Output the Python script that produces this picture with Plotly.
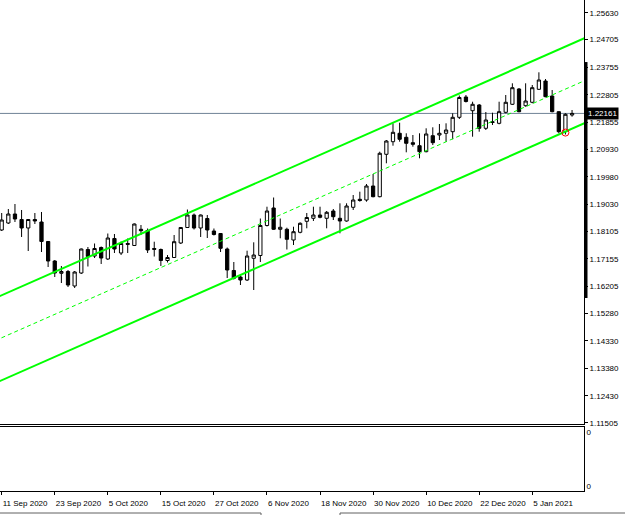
import plotly.graph_objects as go

# ---- data (EURUSD daily) ----
opens = [1.18145, 1.18386, 1.18696, 1.18506, 1.18214, 1.18506, 1.18420, 1.17749, 1.17077, 1.16653,
         1.16715, 1.16216, 1.16663, 1.17473, 1.17249, 1.17542, 1.17146, 1.17852, 1.17352, 1.17680,
         1.17611, 1.18169, 1.18128, 1.17507, 1.17473, 1.17094, 1.17197, 1.17697, 1.18231, 1.18661,
         1.18214, 1.18541, 1.18110, 1.18024, 1.17490, 1.16750, 1.16526, 1.16422, 1.17170, 1.17266,
         1.18300, 1.18903, 1.18169, 1.18169, 1.17800, 1.18065, 1.18444, 1.18548, 1.18661, 1.18548,
         1.18799, 1.18548, 1.18455, 1.18927, 1.19202, 1.19178, 1.19660, 1.19292, 1.20752, 1.21186,
         1.21476, 1.21338, 1.21152, 1.21049, 1.20842, 1.21393, 1.21417, 1.21476, 1.21531, 1.22027,
         1.22726, 1.22254, 1.22451, 1.21648, 1.21875, 1.21820, 1.22199, 1.22475, 1.23002, 1.22426,
         1.22544, 1.22991, 1.23277, 1.22761, 1.22220, 1.21531, 1.22106]
highs = [1.18730, 1.18868, 1.19040, 1.18834, 1.18524, 1.18730, 1.18765, 1.17766, 1.17111, 1.16905,
         1.16767, 1.16732, 1.17507, 1.17559, 1.17680, 1.17576, 1.18024, 1.18007, 1.17749, 1.17852,
         1.18369, 1.18317, 1.18196, 1.17742, 1.17507, 1.17283, 1.17972, 1.18248, 1.18851, 1.18713,
         1.18679, 1.18661, 1.18196, 1.18041, 1.17542, 1.17042, 1.16595, 1.17432, 1.17721, 1.18541,
         1.18947, 1.19264, 1.18541, 1.18224, 1.18258, 1.18410, 1.18730, 1.18947, 1.18947, 1.18799,
         1.18868, 1.19064, 1.19064, 1.19350, 1.19464, 1.19729, 1.20074, 1.20842, 1.21245, 1.21820,
         1.21841, 1.21476, 1.21417, 1.21476, 1.21648, 1.21682, 1.21796, 1.21820, 1.22165, 1.22778,
         1.22795, 1.22564, 1.22485, 1.22209, 1.22185, 1.22564, 1.22795, 1.23198, 1.23036, 1.23198,
         1.23139, 1.23577, 1.23346, 1.22967, 1.22234, 1.22165, 1.22278]
lows = [1.18110, 1.18351, 1.18420, 1.17904, 1.17421, 1.18351, 1.17387, 1.16870, 1.16526, 1.16319,
        1.16181, 1.16147, 1.16629, 1.16887, 1.17180, 1.16974, 1.17111, 1.17352, 1.17283, 1.17352,
        1.17593, 1.17972, 1.17352, 1.17232, 1.16905, 1.17025, 1.17180, 1.17662, 1.18214, 1.18162,
        1.17904, 1.17869, 1.17955, 1.17387, 1.16491, 1.16440, 1.16250, 1.16388, 1.16078, 1.17042,
        1.18265, 1.18145, 1.17859, 1.17473, 1.17628, 1.18031, 1.18203, 1.18455, 1.18548, 1.18203,
        1.18489, 1.18031, 1.18431, 1.18834, 1.19120, 1.19120, 1.19271, 1.19271, 1.20442, 1.21049,
        1.21186, 1.20821, 1.21014, 1.20615, 1.20821, 1.21073, 1.21245, 1.21186, 1.21269, 1.21968,
        1.22537, 1.21359, 1.21531, 1.21589, 1.21762, 1.21786, 1.22165, 1.22451, 1.22199, 1.22392,
        1.22509, 1.22967, 1.22716, 1.22199, 1.21476, 1.21434, 1.22048]
closes = [1.18489, 1.18696, 1.18524, 1.18214, 1.18506, 1.18455, 1.17749, 1.17077, 1.16663, 1.16715,
          1.16250, 1.16698, 1.17490, 1.17232, 1.17507, 1.17180, 1.17869, 1.17490, 1.17680, 1.17652,
          1.18351, 1.18121, 1.17456, 1.17480, 1.17094, 1.17197, 1.17742, 1.18231, 1.18661, 1.18214,
          1.18661, 1.18145, 1.17990, 1.17514, 1.16767, 1.16481, 1.16422, 1.17249, 1.17283, 1.18300,
          1.18799, 1.18169, 1.18238, 1.17824, 1.18086, 1.18375, 1.18575, 1.18661, 1.18582, 1.18754,
          1.18603, 1.18455, 1.18971, 1.19178, 1.19161, 1.19660, 1.19292, 1.20787, 1.21210, 1.21510,
          1.21269, 1.21131, 1.21097, 1.20842, 1.21452, 1.21152, 1.21476, 1.21589, 1.22027, 1.22709,
          1.22571, 1.22475, 1.21648, 1.21934, 1.21848, 1.22220, 1.22544, 1.23047, 1.22220, 1.22588,
          1.23047, 1.23312, 1.22737, 1.22220, 1.21531, 1.22130, 1.22161]
bar_idx = list(range(len(opens)))

date_tick_idx = [0, 8, 16, 24, 32, 40, 48, 56, 64, 72, 80]
date_labels = ["11 Sep 2020", "23 Sep 2020", "5 Oct 2020", "15 Oct 2020", "27 Oct 2020",
               "6 Nov 2020", "18 Nov 2020", "30 Nov 2020", "10 Dec 2020", "22 Dec 2020", "5 Jan 2021"]

price_ticks = [1.25630, 1.24705, 1.23755, 1.22805, 1.21855, 1.20930, 1.19980, 1.19030,
               1.18105, 1.17155, 1.16205, 1.15280, 1.14330, 1.13380, 1.12430, 1.11505]
price_labels = ["%.5f" % v for v in price_ticks]

bid_price = 1.22161

channel_x = [-1, 89]
channel_upper = [1.15796, 1.24865]
channel_mid = [1.14332, 1.23401]
channel_lower = [1.12868, 1.21937]

anchor_idx = [85]
anchor_price = [1.21500]

# ---- layout geometry ----
W, H = 625, 515
plot_right = 584 / W
main_bottom = (H - 424) / H
sub_top = (H - 427) / H
sub_bottom = (H - 491) / H
FONT = "Liberation Sans, Arial, sans-serif"
FS = 8

fig = go.Figure()

fig.add_trace(go.Candlestick(
    x=bar_idx, open=opens, high=highs, low=lows, close=closes,
    increasing=dict(line=dict(color="black", width=1), fillcolor="white"),
    decreasing=dict(line=dict(color="black", width=1), fillcolor="black"),
    whiskerwidth=0, hoverinfo="skip", showlegend=False,
    xaxis="x", yaxis="y"))

for vals, dash, w in [(channel_upper, "solid", 2), (channel_lower, "solid", 2),
                      (channel_mid, "4px,3px", 1)]:
    fig.add_trace(go.Scatter(x=channel_x, y=vals, mode="lines",
                             line=dict(color="#00FF00", width=w, dash=dash),
                             hoverinfo="skip", showlegend=False, xaxis="x", yaxis="y"))

fig.add_trace(go.Scatter(x=anchor_idx, y=anchor_price, mode="markers",
                         marker=dict(symbol="circle-open", size=7, color="red",
                                     line=dict(color="red", width=1)),
                         hoverinfo="skip", showlegend=False, xaxis="x", yaxis="y"))

fig.add_trace(go.Scatter(x=[None], y=[None], xaxis="x2", yaxis="y2",
                         showlegend=False, hoverinfo="skip"))

fig.update_layout(
    width=W, height=H,
    margin=dict(l=0, r=0, t=0, b=0, autoexpand=False),
    paper_bgcolor="white", plot_bgcolor="white",
    showlegend=False,
    font=dict(family=FONT, size=FS, color="black"),
    xaxis=dict(domain=[0, plot_right], range=[-0.256, 87.8], anchor="y",
               showline=True, linecolor="black", linewidth=1, mirror=False,
               showticklabels=False, ticks="", showgrid=False, zeroline=False,
               rangeslider=dict(visible=False), fixedrange=True, automargin=False),
    yaxis=dict(domain=[main_bottom, 1], range=[1.11462, 1.260675], anchor="x",
               side="right", showline=True, linecolor="black", linewidth=1,
               ticks="outside", ticklen=3, tickcolor="black",
               tickvals=price_ticks, ticktext=price_labels,
               tickfont=dict(family=FONT, size=FS, color="black"),
               showgrid=False, zeroline=False, fixedrange=True, automargin=False),
    xaxis2=dict(domain=[0, plot_right], matches="x", anchor="y2",
                showline=True, linecolor="black", linewidth=1, mirror=True,
                ticks="outside", ticklen=3, tickcolor="black",
                tickvals=date_tick_idx, ticktext=date_labels, tickangle=0,
                ticklabelposition="outside right", ticklabelstandoff=4,
                tickfont=dict(family=FONT, size=FS, color="black"),
                showgrid=False, zeroline=False, fixedrange=True, automargin=False),
    yaxis2=dict(domain=[sub_bottom, sub_top], range=[0, 1], anchor="x2",
                side="right", showline=True, linecolor="black", linewidth=1, mirror=True,
                ticks="", tickvals=[0.07, 0.92], ticktext=["0", "0"],
                tickfont=dict(family=FONT, size=FS, color="black"),
                showgrid=False, zeroline=False, fixedrange=True, automargin=False),
)

# bid line
fig.add_shape(type="line", xref="paper", yref="y", x0=0, x1=plot_right,
              y0=bid_price, y1=bid_price, line=dict(color="#6f8296", width=1), layer="below")
# bid label
fig.add_annotation(xref="paper", yref="y", x=586 / W, y=bid_price, xanchor="left",
                   yanchor="middle", text="%.5f" % bid_price, showarrow=False,
                   bgcolor="black", font=dict(family=FONT, size=FS, color="white"),
                   borderpad=1)
# thick bar along price scale
fig.add_shape(type="line", xref="paper", yref="y", x0=586 / W, x1=586 / W,
              y0=1.23930, y1=1.15802, line=dict(color="black", width=3))
# tab bar at the bottom
tab_y = (H - 513) / H
for x0, x1 in [(0, 261), (340, W)]:
    fig.add_shape(type="line", xref="paper", yref="paper", x0=x0 / W, x1=x1 / W,
                  y0=tab_y, y1=tab_y, line=dict(color="#606060", width=1))
for xv in [261, 340]:
    fig.add_shape(type="line", xref="paper", yref="paper", x0=xv / W, x1=xv / W,
                  y0=0, y1=tab_y, line=dict(color="#606060", width=1))

fig.write_html("out.html")
